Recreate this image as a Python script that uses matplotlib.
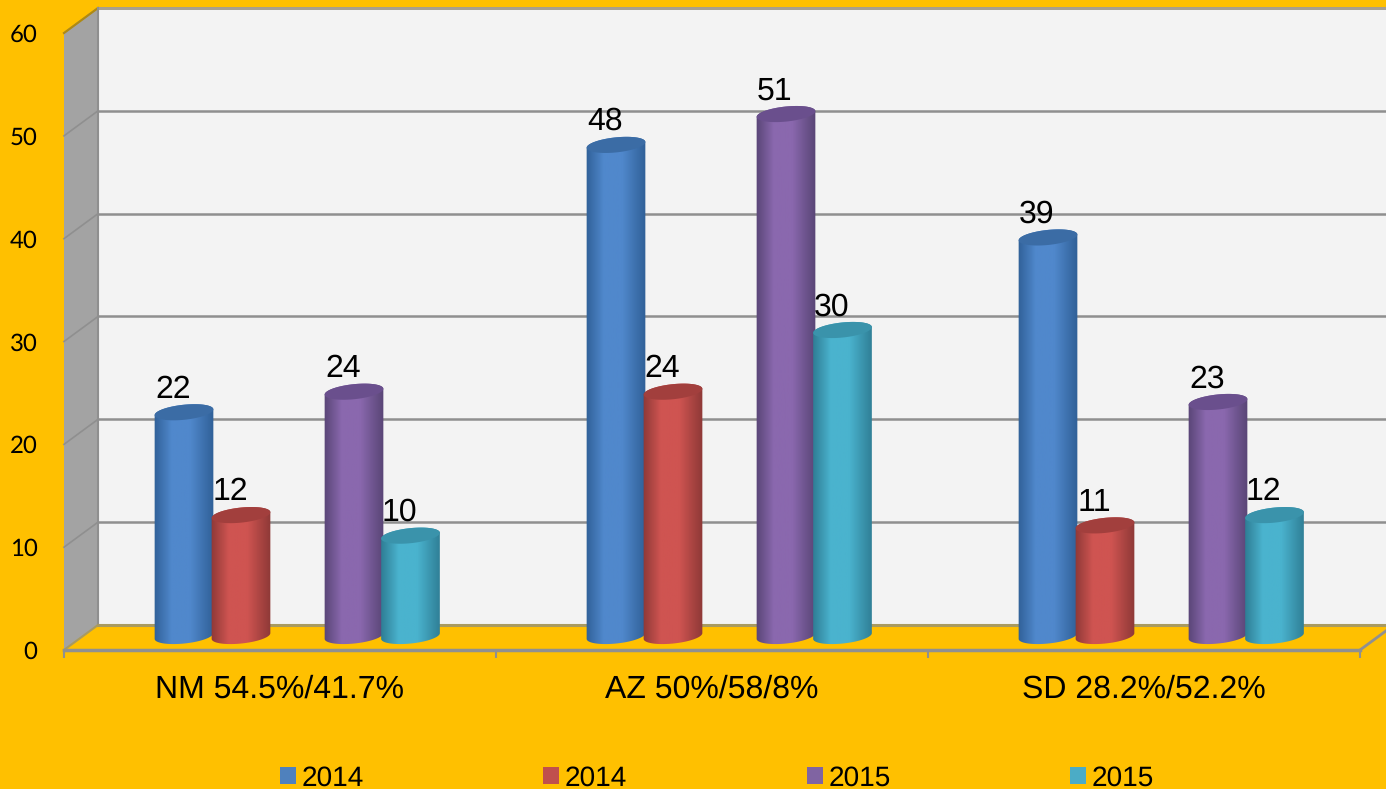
import matplotlib
matplotlib.use("Agg")
import matplotlib.pyplot as plt
import numpy as np
from matplotlib.colors import LinearSegmentedColormap
from matplotlib.patches import Patch, Polygon

plt.rcParams["text.hinting"] = "no_hinting"
plt.rcParams["text.hinting_factor"] = 1

categories = ["NM 54.5%/41.7%", "AZ 50%/58/8%", "SD 28.2%/52.2%"]
series_names = ["2014", "2014", "2015", "2015"]
series_a = [22, 48, 39]
series_b = [12, 24, 11]
series_c = [24, 51, 23]
series_d = [10, 30, 12]
y_ticks = [0, 10, 20, 30, 40, 50, 60]

W, H = 1386, 789
GOLD = "#FFC000"
# pixels per data unit on the front plane
PX_X = 432.0
PX_Y = 10.28
DEPTH_X = 34 / PX_X
DEPTH_Y = 25 / PX_Y

BAR_OFFSETS = [120 / PX_X, 177 / PX_X, 290 / PX_X, 346.5 / PX_X]
BAR_BASE = 14 / PX_Y
TOP_BASE = 11.5 / PX_Y
RADIUS_A = 29.5
RADIUS_B = 7.5
TILT = np.radians(6)

# side, middle, top-cap colours per series
STYLES = [
    ("#2f5f96", "#5088cc", "#3b6ca5"),
    ("#8c3836", "#cf5451", "#a23f3d"),
    ("#574474", "#8a68ae", "#6a4f8d"),
    ("#2e7c93", "#4ab3ce", "#3a93ab"),
]


def ellipse_points(cx, cy, t):
    px = RADIUS_A * np.cos(t) * np.cos(TILT) - RADIUS_B * np.sin(t) * np.sin(TILT)
    py = RADIUS_A * np.cos(t) * np.sin(TILT) + RADIUS_B * np.sin(t) * np.cos(TILT)
    return np.column_stack([cx + px / PX_X, cy + py / PX_Y])


def draw_cylinder(ax, cx, value, style, z):
    side, mid, cap = style
    top_y = value + TOP_BASE
    upper = ellipse_points(cx, top_y, np.linspace(0, np.pi, 40))
    lower = ellipse_points(cx, BAR_BASE, np.linspace(np.pi, 2 * np.pi, 40))
    body = Polygon(np.vstack([upper, lower]), closed=True, transform=ax.transData,
                   facecolor="none", edgecolor="none")
    ax.add_patch(body)
    cmap = LinearSegmentedColormap.from_list("cyl", [(0, side), (0.3, mid), (0.6, mid), (1, side)])
    half = RADIUS_A * 1.05 / PX_X
    img = ax.imshow(np.linspace(0, 1, 64).reshape(1, -1), cmap=cmap, aspect="auto",
                    extent=(cx - half, cx + half, 0, top_y + 2), zorder=z, clip_on=True)
    img.set_clip_path(body)
    top = ellipse_points(cx, top_y, np.linspace(0, 2 * np.pi, 80))
    ax.add_patch(Polygon(top, closed=True, facecolor=cap, edgecolor="none", zorder=z + 0.1, clip_on=False))


fig = plt.figure(figsize=(W / 100, H / 100), dpi=100, facecolor=GOLD)
ax = fig.add_axes([64 / W, 1 - 650 / H, (1360 - 64) / W, (650 - 33) / H])
ax.patch.set_visible(False)
for name in ["top", "left", "right"]:
    ax.spines[name].set_visible(False)
ax.spines["bottom"].set_color("#909090")
ax.spines["bottom"].set_linewidth(2.5)
ax.spines["bottom"].set_zorder(1.5)

# walls and floor
ax.add_patch(Polygon([(DEPTH_X, DEPTH_Y), (3.2, DEPTH_Y), (3.2, 60 + DEPTH_Y), (DEPTH_X, 60 + DEPTH_Y)],
                     facecolor="#f3f3f3", edgecolor="none", zorder=0.5, clip_on=False))
ax.add_patch(Polygon([(0, 0), (DEPTH_X, DEPTH_Y), (DEPTH_X, 60 + DEPTH_Y), (0, 60)],
                     facecolor="#a3a3a3", edgecolor="none", zorder=0.6, clip_on=False))
ax.add_patch(Polygon([(0.01, 0), (3, 0), (3 + DEPTH_X, DEPTH_Y), (DEPTH_X, DEPTH_Y)],
                     facecolor=GOLD, edgecolor="none", zorder=0.7, clip_on=False))

for v in y_ticks[1:]:
    ax.plot([DEPTH_X, 3.2], [v + DEPTH_Y, v + DEPTH_Y], color="#8f8f8f", lw=1.8, zorder=0.8, clip_on=False)
    ax.plot([0, DEPTH_X], [v, v + DEPTH_Y], color="#8f8f8f", lw=1.2, zorder=0.8, clip_on=False)
ax.plot([DEPTH_X, 3.2], [DEPTH_Y, DEPTH_Y], color="#a89a60", lw=2.2, zorder=0.8, clip_on=False)
ax.plot([0, DEPTH_X], [60, 60 + DEPTH_Y], color="#b08a10", lw=1.5, zorder=0.8, clip_on=False)
ax.plot([DEPTH_X, 3.2], [60 + DEPTH_Y, 60 + DEPTH_Y], color="#a8a090", lw=2, zorder=0.8, clip_on=False)
ax.plot([DEPTH_X, DEPTH_X], [DEPTH_Y, 60 + DEPTH_Y], color="#8f8f8f", lw=1.5, zorder=0.8, clip_on=False)
ax.plot([3, 3 + DEPTH_X], [0, DEPTH_Y], color="#909090", lw=2, zorder=0.8, clip_on=False)
ax.plot([0, DEPTH_X], [0, DEPTH_Y], color="#a89a60", lw=1.5, zorder=0.8, clip_on=False)

# cylinders and their value labels
all_series = [series_a, series_b, series_c, series_d]
for s, values in enumerate(all_series):
    for c, value in enumerate(values):
        cx = c + BAR_OFFSETS[s]
        draw_cylinder(ax, cx, value, STYLES[s], 2 + s)
        ax.text(cx - 11 / PX_X, value + TOP_BASE + 23 / PX_Y, str(value), ha="center", va="center",
                fontsize=23, family="Liberation Sans", color="black", zorder=10)

ax.set_xlim(0, 3)
ax.set_ylim(0, 60)

ax.set_xticks([0.5, 1.5, 2.5])
ax.set_xticklabels(categories, family="Liberation Sans", fontsize=23)
ax.set_xticks([0, 1, 2, 3], minor=True)
ax.tick_params(axis="x", which="major", length=0, pad=17.5)
ax.tick_params(axis="x", which="minor", length=6, width=1.5, color="#909090")
ax.set_yticks(y_ticks)
ax.set_yticklabels([str(v) for v in y_ticks], family="Lato", fontsize=17)
ax.tick_params(axis="y", length=0, pad=19)

handles = [Patch(facecolor=c, edgecolor="none") for c in ["#4f81bd", "#c0504d", "#8064a2", "#4bacc6"]]
fig.legend(handles, series_names, loc="center", bbox_to_anchor=(717 / W, 1 - 778.5 / H),
           ncol=4, frameon=False, prop={"family": "Liberation Sans", "size": 20.5},
           handlelength=0.56, handleheight=0.56, handletextpad=0.2, columnspacing=6.3,
           borderpad=0, borderaxespad=0)

fig.savefig("out.png", dpi=100, facecolor=GOLD)
